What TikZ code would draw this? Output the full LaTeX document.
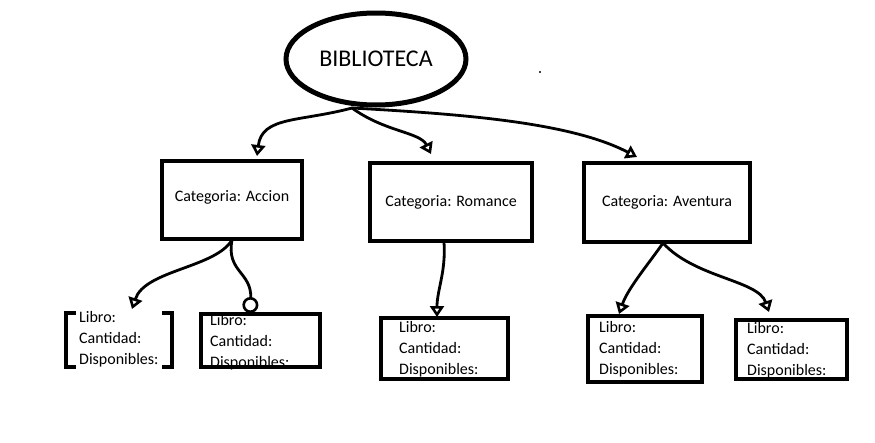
\documentclass[tikz,border=0pt]{standalone}
\usepackage{fontspec}
\setmainfont{Carlito}
\usetikzlibrary{arrows.meta,shapes.geometric}
\tikzset{
  box/.style={draw, line width=4.5pt, inner sep=0pt},
  cat/.style={box, font=\fontsize{16}{19}\selectfont},
  leaftext/.style={align=left, anchor=north west, inner sep=0pt, font=\fontsize{16}{21}\selectfont},
  conn/.style={line width=2.8pt, line cap=round, -{Triangle[open, length=11pt, width=14pt, line width=2.6pt]}},
  conno/.style={line width=2.8pt, line cap=round, -{Circle[open, length=16pt, width=16pt, line width=2.6pt]}}
}
\begin{document}
\begin{tikzpicture}[x=1pt, y=-1pt]
\useasboundingbox[fill=white] (0,0) rectangle (875,442);
% root
\node[draw, ellipse, line width=5pt, minimum width=180pt, minimum height=92pt, font=\fontsize{24}{28}\selectfont] (root) at (376,59) {BIBLIOTECA};
\fill (540,72) circle (1.2pt);
% categories
\node[cat, minimum width=140pt, minimum height=78pt] (acc) at (232,200) {\raisebox{8pt}{Categoria: Accion}};
\node[cat, minimum width=162pt, minimum height=78pt] (rom) at (451,202) {Categoria: Romance};
\node[cat, minimum width=166pt, minimum height=79pt] (ave) at (667,202.5) {Categoria: Aventura};
% leaf 1 (brackets)
\node[inner sep=0pt, minimum width=106pt, minimum height=54pt] (l1) at (119,340) {};
\node[leaftext] (t1) at (79,311) {Libro:\\Cantidad:\\Disponibles:};
\draw[line width=4.5pt] ([xshift=10pt]l1.north west) -- (l1.north west) -- (l1.south west) -- ([xshift=10pt]l1.south west);
\draw[line width=4.5pt] ([xshift=-10pt]l1.north east) -- (l1.north east) -- (l1.south east) -- ([xshift=-10pt]l1.south east);
% leaf 2
\node[leaftext] (t2) at (210,314) {Libro:\\Cantidad:\\Disponibles:};
\node[box, minimum width=119pt, minimum height=53pt] (l2) at (260.5,340.5) {};
% leaf 3
\node[box, minimum width=127pt, minimum height=61pt] (l3) at (444.5,348.5) {};
\node[leaftext] (t3) at (399,321) {Libro:\\Cantidad:\\Disponibles:};
% leaf 4
\node[box, minimum width=114pt, minimum height=66pt] (l4) at (645,349) {};
\node[leaftext] (t4) at (599,321) {Libro:\\Cantidad:\\Disponibles:};
% leaf 5
\node[box, minimum width=111pt, minimum height=59pt] (l5) at (791.5,349.5) {};
\node[leaftext] (t5) at (747,322) {Libro:\\Cantidad:\\Disponibles:};
% connector ends
\coordinate (rb) at (352,108);
\coordinate (e1) at (257,156);
\coordinate (e2) at (431,154);
\coordinate (e3) at (637,157);
\coordinate (ab) at (232,240);
\coordinate (e4) at (132,309);
\coordinate (e5) at (250,313);
\coordinate (rmb) at (444,242);
\coordinate (e6) at (437,317);
\coordinate (avb) at (663,243);
\coordinate (e7) at (619,314);
\coordinate (e8) at (769,312);
% connectors
\draw[conn] (rb) .. controls (300,122) and (262,116) .. (e1);
\draw[conn] (rb) .. controls (385,132) and (420,132) .. (e2);
\draw[conn] (rb) .. controls (460,114) and (570,122) .. (e3);
\draw[conn] (ab) .. controls (215,268) and (145,270) .. (e4);
\draw[conno] (ab) .. controls (226,272) and (252,272) .. (e5);
\draw[conn] (rmb) .. controls (446,272) and (437,290) .. (e6);
\draw[conn] (avb) .. controls (650,262) and (628,288) .. (e7);
\draw[conn] (avb) .. controls (695,278) and (758,280) .. (e8);
\end{tikzpicture}
\end{document}
